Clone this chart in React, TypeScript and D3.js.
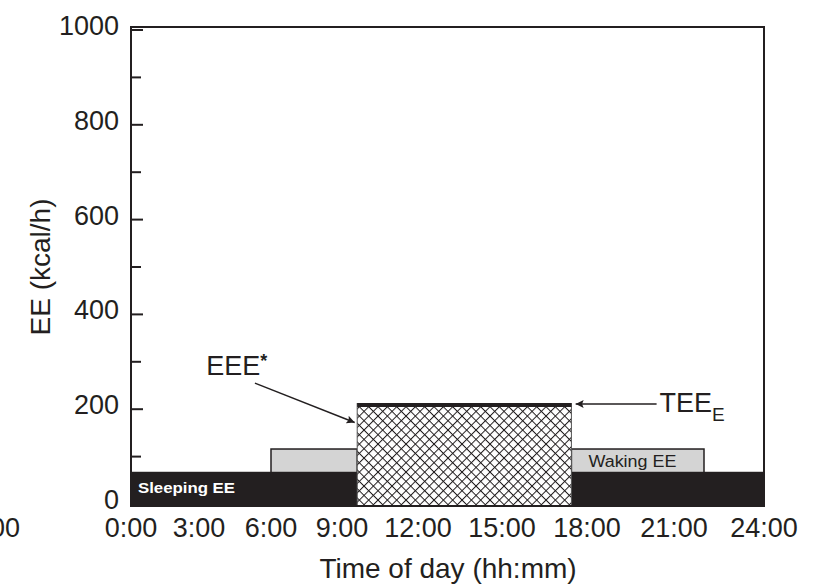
import { useEffect, useRef } from "react";
import * as d3 from "d3";

// hour marks and their labels on the time axis
const hourTicks = [0, 3, 6, 9, 12, 15, 18, 21, 24];
const hourLabels = ["0:00", "3:00", "6:00", "9:00", "12:00", "15:00", "18:00", "21:00", "24:00"];
// the labels are not evenly spaced in the source figure
const hourPositions = [131, 199, 271, 342, 418, 502, 587, 674, 764];

const majorTicks = [0, 200, 400, 600, 800, 1000];
const minorTicks = [100, 300, 500, 700, 900];

// energy expenditure blocks (hours, kcal/h)
const sleepingEE = [{ start: 0, end: 24, value: 68 }];
const wakingEE = [
  { start: 6, end: 9.6, value: 116 },
  { start: 17.45, end: 22, value: 116 },
];
const exerciseEE = [{ start: 9.6, end: 17.45, value: 212 }];

const font = "'Liberation Sans', Arial, Helvetica, sans-serif";
const ink = "#231f20";

export default function App() {
  const svgRef = useRef<SVGSVGElement>(null);

  useEffect(() => {
    const width = 828, height = 586;
    const svg = d3.select(svgRef.current).attr("width", width).attr("height", height);
    svg.selectAll("*").remove();

    const x = d3.scaleLinear().domain(hourTicks).range(hourPositions);
    const y = d3.scaleLinear().domain([0, 1000]).range([504, 30]);

    const defs = svg.append("defs");
    const pat = defs.append("pattern")
      .attr("id", "hatch")
      .attr("patternUnits", "userSpaceOnUse")
      .attr("width", 6.6)
      .attr("height", 6.6)
      .attr("patternTransform", "rotate(45)");
    pat.append("rect").attr("width", 6.6).attr("height", 6.6).attr("fill", "#fff");
    pat.append("line").attr("x1", 0).attr("y1", 0).attr("x2", 6.6).attr("y2", 0)
      .attr("stroke", ink).attr("stroke-width", 2);
    pat.append("line").attr("x1", 0).attr("y1", 0).attr("x2", 0).attr("y2", 6.6)
      .attr("stroke", ink).attr("stroke-width", 2);

    const arrow = defs.append("marker")
      .attr("id", "arrow")
      .attr("viewBox", "0 0 10 10")
      .attr("refX", 10).attr("refY", 5)
      .attr("markerWidth", 13).attr("markerHeight", 8)
      .attr("markerUnits", "userSpaceOnUse")
      .attr("orient", "auto");
    arrow.append("path").attr("d", "M0,0 L10,5 L0,10 L2,5 Z").attr("fill", ink);

    // waking bars (under sleeping)
    svg.selectAll(".waking")
      .data(wakingEE)
      .enter()
      .append("rect")
      .attr("x", (d) => x(d.start))
      .attr("y", (d) => y(d.value))
      .attr("width", (d) => x(d.end) - x(d.start))
      .attr("height", (d) => y(0) - y(d.value))
      .attr("fill", "#d4d4d4")
      .attr("stroke", ink)
      .attr("stroke-width", 1.5);

    svg.selectAll(".sleeping")
      .data(sleepingEE)
      .enter()
      .append("rect")
      .attr("x", (d) => x(d.start))
      .attr("y", (d) => y(d.value))
      .attr("width", (d) => x(d.end) - x(d.start))
      .attr("height", (d) => y(0) - y(d.value) + 2)
      .attr("fill", ink);

    svg.selectAll(".exercise")
      .data(exerciseEE)
      .enter()
      .append("rect")
      .attr("x", (d) => x(d.start))
      .attr("y", (d) => y(d.value))
      .attr("width", (d) => x(d.end) - x(d.start))
      .attr("height", (d) => y(0) - y(d.value) + 2)
      .attr("fill", "url(#hatch)")
      .attr("stroke", "#555")
      .attr("stroke-width", 1);
    svg.selectAll(".exerciseTop")
      .data(exerciseEE)
      .enter()
      .append("line")
      .attr("x1", (d) => x(d.start))
      .attr("x2", (d) => x(d.end))
      .attr("y1", (d) => y(d.value) + 1.5)
      .attr("y2", (d) => y(d.value) + 1.5)
      .attr("stroke", ink)
      .attr("stroke-width", 4);

    // frame
    svg.append("rect")
      .attr("x", x(0))
      .attr("y", y(1000) - 3)
      .attr("width", x(24) - x(0))
      .attr("height", y(0) - y(1000) + 5)
      .attr("fill", "none")
      .attr("stroke", ink)
      .attr("stroke-width", 2);

    // y ticks, drawn inward
    svg.selectAll(".major")
      .data(majorTicks)
      .enter()
      .append("line")
      .attr("x1", x(0)).attr("x2", x(0) + 12)
      .attr("y1", (d) => y(d)).attr("y2", (d) => y(d))
      .attr("stroke", ink).attr("stroke-width", 2);
    svg.selectAll(".minor")
      .data(minorTicks)
      .enter()
      .append("line")
      .attr("x1", x(0)).attr("x2", x(0) + 10)
      .attr("y1", (d) => y(d)).attr("y2", (d) => y(d))
      .attr("stroke", ink).attr("stroke-width", 2);
    svg.selectAll(".ylabel")
      .data(majorTicks)
      .enter()
      .append("text")
      .attr("x", 119)
      .attr("y", (d) => y(d) + 5)
      .attr("text-anchor", "end")
      .attr("font-family", font)
      .attr("font-size", 27)
      .attr("fill", ink)
      .text((d) => d);

    // x labels
    svg.selectAll(".xlabel")
      .data(hourTicks)
      .enter()
      .append("text")
      .attr("x", (d) => x(d))
      .attr("y", 537)
      .attr("text-anchor", "middle")
      .attr("font-family", font)
      .attr("font-size", 27)
      .attr("fill", ink)
      .text((d, i) => hourLabels[i]);

    // leftover label at the left edge of the source image
    svg.append("text")
      .attr("x", 20).attr("y", 537)
      .attr("text-anchor", "end")
      .attr("font-family", font).attr("font-size", 27).attr("fill", ink)
      .text("00");

    svg.append("text")
      .attr("x", 448).attr("y", 578)
      .attr("text-anchor", "middle")
      .attr("font-family", font).attr("font-size", 28).attr("fill", ink)
      .text("Time of day (hh:mm)");

    svg.append("text")
      .attr("transform", "translate(50,267) rotate(-90)")
      .attr("text-anchor", "middle")
      .attr("font-family", font).attr("font-size", 28).attr("fill", ink)
      .text("EE (kcal/h)");

    // bar labels
    svg.append("text")
      .attr("x", x(0) + 7).attr("y", y(0) - 11)
      .attr("font-family", font).attr("font-size", 15).attr("font-weight", "bold")
      .attr("fill", "#fff")
      .attr("textLength", 97).attr("lengthAdjust", "spacingAndGlyphs")
      .text("Sleeping EE");
    svg.append("text")
      .attr("x", x(wakingEE[1].start) + 17).attr("y", y(wakingEE[1].value) + 18)
      .attr("font-family", font).attr("font-size", 16)
      .attr("fill", ink)
      .attr("textLength", 88).attr("lengthAdjust", "spacingAndGlyphs")
      .text("Waking EE");

    // EEE* annotation
    const eee = svg.append("text")
      .attr("x", x(3.3)).attr("y", y(272))
      .attr("font-family", font).attr("font-size", 27).attr("fill", ink);
    eee.append("tspan").text("EEE");
    eee.append("tspan").attr("font-size", 18).attr("font-weight", "bold").attr("dy", -8).text("*");
    svg.append("line")
      .attr("x1", x(5.33)).attr("y1", y(255))
      .attr("x2", x(9.5)).attr("y2", y(172))
      .attr("stroke", ink).attr("stroke-width", 1.5)
      .attr("marker-end", "url(#arrow)");

    // TEE_E annotation
    svg.append("line")
      .attr("x1", x(20.4)).attr("y1", y(211))
      .attr("x2", x(17.6)).attr("y2", y(211))
      .attr("stroke", ink).attr("stroke-width", 1.5)
      .attr("marker-end", "url(#arrow)");
    const tee = svg.append("text")
      .attr("x", x(20.5)).attr("y", y(194))
      .attr("font-family", font).attr("font-size", 27).attr("fill", ink);
    tee.append("tspan").text("TEE");
    tee.append("tspan").attr("font-size", 19).attr("dy", 9).text("E");
  }, []);

  return <svg ref={svgRef} style={{ position: "absolute", left: 0, top: 0 }}></svg>;
}
